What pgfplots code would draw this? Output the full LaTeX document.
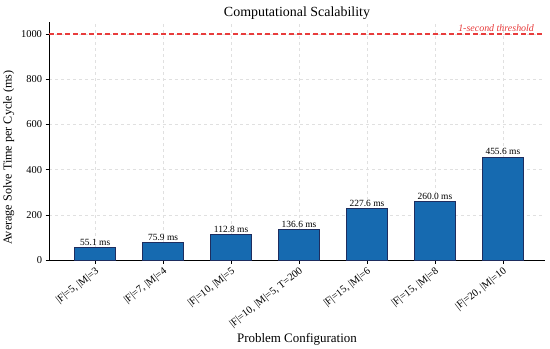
\documentclass[border=0pt]{standalone}
\usepackage{pgfplots}
\pgfplotsset{compat=1.18}
\usepackage{fontspec}
\setmainfont{Liberation Serif}
\definecolor{barblue}{RGB}{22,106,176}
\definecolor{baredge}{RGB}{30,45,95}
\definecolor{thr}{RGB}{232,60,60}
\begin{document}
\begin{tikzpicture}
\begin{axis}[name=ax, scale only axis, width=496bp, height=238bp,
  xmin=-0.68, xmax=6.62, ymin=0, ymax=1053,
  axis x line*=bottom, axis y line*=left,
  grid=major, grid style={dashed, black!12},
  xtick={0,...,6},
  xticklabels={{|F|=5, |M|=3},{|F|=7, |M|=4},{|F|=10, |M|=5},{|F|=10, |M|=5, T=200},{|F|=15, |M|=6},{|F|=15, |M|=8},{|F|=20, |M|=10}},
  x tick label style={rotate=38, anchor=north east, font=\fontsize{10.5}{12}\selectfont, inner sep=2bp},
  ytick={0,200,...,1000},
  y tick label style={font=\fontsize{10.5}{12}\selectfont},
  /pgf/number format/assume math mode=true,
  yticklabel={\pgfmathprintnumber[fixed,1000 sep={}]{\tick}},
  tick align=outside, major tick length=3.5bp,
  tick style={black, line width=0.6pt},
  axis line style={black, line width=0.8pt},
  title={Computational Scalability},
  title style={font=\fontsize{14}{16}\selectfont, yshift=-7.5bp},
  xlabel={Problem Configuration},
  xlabel style={font=\fontsize{13}{15}\selectfont, at={(axis description cs:0.5,0)}, anchor=base, yshift=-82bp},
  ylabel={Average Solve Time per Cycle (ms)},
  ylabel style={font=\fontsize{12.2}{14}\selectfont, at={(ticklabel cs:0.43)}},
]
\addplot[ybar, bar width=0.6, fill=barblue, draw=baredge, line width=0.8pt,
  nodes near coords={\pgfmathprintnumber[fixed,precision=1,fixed zerofill]{\pgfplotspointmeta} ms},
  every node near coord/.append style={font=\fontsize{9.5}{11}\selectfont, black, inner sep=1.5bp}]
  coordinates {(0,55.1) (1,75.9) (2,112.8) (3,136.6) (4,227.6) (5,260.0) (6,455.6)};
\addplot[thr, line width=1.2pt, dash pattern=on 5bp off 3bp] coordinates {(-0.68,1000) (6.62,1000)};
\node[anchor=south east, text=thr, font=\itshape\fontsize{10}{12}\selectfont, inner sep=2bp] at (axis cs:6.49,1000) {1-second threshold};
\end{axis}
\pgfresetboundingbox
\path ([shift={(-49bp,-88bp)}]ax.south west) rectangle ([shift={(5bp,22bp)}]ax.north east);
\end{tikzpicture}
\end{document}
